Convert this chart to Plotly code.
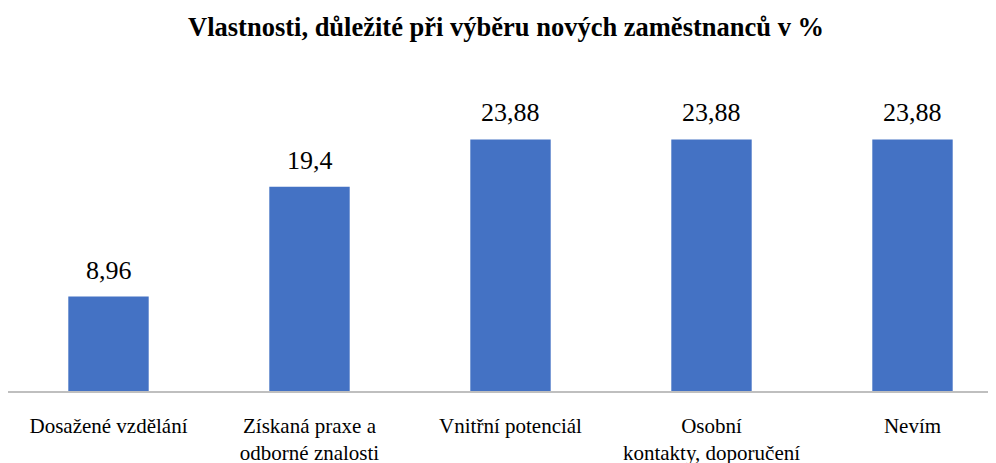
import plotly.graph_objects as go

categories = ["Dosažené vzdělání", "Získaná praxe a<br>odborné znalosti", "Vnitřní potenciál",
              "Osobní<br>kontakty, doporučení", "Nevím"]
values = [8.96, 19.4, 23.88, 23.88, 23.88]
value_labels = [f"{v:g}".replace(".", ",") for v in values]
title = "Vlastnosti, důležité při výběru nových zaměstnanců v %"

FONT = "Liberation Serif"
x = list(range(len(categories)))

fig = go.Figure(go.Bar(x=x, y=values, width=0.4, marker_color="#4472C4",
                       marker_line_width=0, hoverinfo="skip"))

for xi, v, lab in zip(x, values, value_labels):
    fig.add_annotation(x=xi, y=v, text=lab, showarrow=False, yanchor="bottom",
                       yshift=10, font=dict(family=FONT, size=26, color="#000000"))

fig.update_layout(
    width=996, height=463,
    margin=dict(l=0, r=0, t=67, b=80),
    paper_bgcolor="white", plot_bgcolor="white",
    showlegend=False,
    title=dict(text="<b>" + title + "</b>", x=0.5, xanchor="center", y=1 - 19 / 463,
               yanchor="middle", font=dict(family=FONT, size=26.5, color="#000000")),
    xaxis=dict(range=[-0.5, -0.5 + 996 / 201], tickvals=x, ticktext=categories,
               showline=True, linecolor="#BFBFBF", linewidth=1.5, showgrid=False,
               zeroline=False, ticks="", ticklabelstandoff=15,
               tickfont=dict(family=FONT, size=21, color="#000000")),
    yaxis=dict(range=[0, 30], visible=False, showgrid=False, zeroline=False),
)

fig.write_html("out.html")
